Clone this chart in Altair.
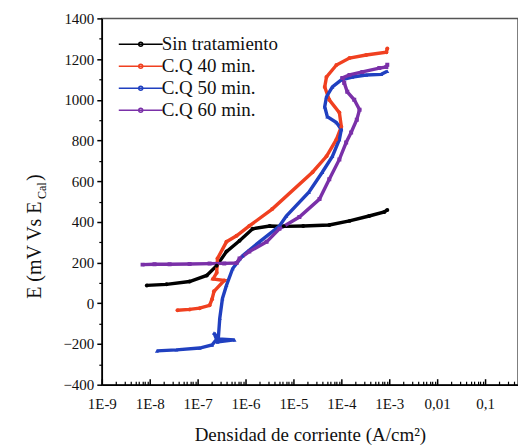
import altair as alt
import pandas as pd

series_names = ["Sin tratamiento", "C.Q 40 min.", "C.Q 50 min.", "C.Q 60 min."]
series_colors = ["#000000", "#f04020", "#2040c0", "#7a30a8"]
series_shapes = ["circle", "circle", "triangle-up", "square"]

# current density (A/cm2) and potential (mV vs E_Cal)
sin_i = [8.7e-9, 2.24e-8, 6.8e-8, 1.55e-7, 2.5e-7, 4.0e-7, 7.5e-7, 1.41e-6, 3.2e-6,
         6.3e-6, 1.6e-5, 5.6e-5, 1.48e-4, 3.8e-4, 7.9e-4, 9.1e-4]
sin_e = [88, 93, 107, 137, 185, 254, 307, 366, 380, 378, 380, 385, 405, 429, 449, 459]

cq40_i = [3.8e-8, 6.8e-8, 1.1e-7, 1.78e-7, 2.0e-7, 2.2e-7, 3.6e-7, 2.1e-7, 2.5e-7, 2.6e-7,
          4.0e-7, 6.5e-7, 1.2e-6, 3.6e-6, 2.5e-5, 4.9e-5, 7.9e-5, 1.0e-4, 9.1e-5, 5.6e-5,
          4.5e-5, 4.9e-5, 7.9e-5, 1.48e-4, 3.3e-4, 8.7e-4, 9.1e-4]
cq40_e = [-34, -30, -24, -10, 20, 59, 112, 120, 150, 220,
          302, 332, 380, 463, 644, 722, 805, 868, 937, 1000,
          1063, 1112, 1171, 1205, 1220, 1234, 1252]

cq50_i = [1.41e-8, 3.6e-8, 1.1e-7, 2.0e-7, 2.6e-7, 2.2e-7, 2.6e-7, 5.9e-7, 2.7e-7, 2.9e-7,
          3.3e-7, 4.0e-7, 5.4e-7, 8.7e-7, 1.95e-6, 5.1e-6, 7.1e-6, 2.1e-5, 4.0e-5, 6.5e-5,
          9.1e-5, 1.0e-4, 7.9e-5, 5.1e-5, 4.5e-5, 4.9e-5, 6.5e-5, 1.0e-4, 1.7e-4, 3.3e-4,
          6.8e-4, 9.1e-4]
cq50_e = [-234, -229, -220, -205, -171, -146, -190, -180, -175, -73,
          24, 88, 171, 234, 302, 380, 429, 546, 644, 722,
          805, 854, 888, 917, 966, 1015, 1063, 1098, 1112, 1122,
          1125, 1140]

cq60_i = [7.1e-9, 1.26e-8, 2.6e-8, 6.8e-8, 1.78e-7, 3.6e-7, 6.5e-7, 7.5e-7, 1.2e-6, 2.75e-6,
          5.1e-6, 1.33e-5, 3.5e-5, 5.6e-5, 9.1e-5, 1.26e-4, 1.6e-4, 2.1e-4, 2.4e-4, 1.86e-4,
          1.33e-4, 1.15e-4, 1.05e-4, 1.48e-4, 2.75e-4, 6.2e-4, 8.7e-4, 9.1e-4]
cq60_e = [190, 192, 192, 193, 195, 196, 198, 220, 254, 302,
          366, 424, 512, 610, 707, 790, 839, 902, 951, 1000,
          1039, 1083, 1107, 1122, 1137, 1156, 1161, 1172]

y_major = [-400, -200, 0, 200, 400, 600, 800, 1000, 1200, 1400]
y_minor = [-300, -100, 100, 300, 500, 700, 900, 1100, 1300]
x_major = [1e-9, 1e-8, 1e-7, 1e-6, 1e-5, 1e-4, 1e-3, 1e-2, 1e-1]
x_labels = ["1E-9", "1E-8", "1E-7", "1E-6", "1E-5", "1E-4", "1E-3", "0,01", "0,1"]
x_minor = [m * d for d in x_major for m in range(2, 10)]

rows = []
for name, ii, ee in zip(series_names, [sin_i, cq40_i, cq50_i, cq60_i],
                        [sin_e, cq40_e, cq50_e, cq60_e]):
    for k, (a, b) in enumerate(zip(ii, ee)):
        rows.append({"serie": name, "marker": name, "i": a, "e": b, "k": k})
df = pd.DataFrame(rows)

W, H = 417, 367
FONT = "Liberation Serif"
xscale = alt.Scale(type="log", domain=[1e-9, 10 ** (-9 + W / 48)], nice=False)
yscale = alt.Scale(domain=[-400, 1400], nice=False, zero=False)

label_map = " : ".join(f"datum.value < {v*1.5:g} ? '{l}'" for v, l in zip(x_major, x_labels)) + " : ''"

legend = alt.Legend(
    title=None, orient="none", legendX=27, legendY=14,
    symbolType="M-2,0H2M0.18,0A0.18,0.18,0,1,1,-0.18,0A0.18,0.18,0,1,1,0.18,0Z",
    symbolSize=484, symbolStrokeWidth=1.5, labelFont=FONT, labelFontSize=19,
    labelColor="#111", labelOffset=9, rowPadding=0, padding=0,
)
color = alt.Color("serie:N", scale=alt.Scale(domain=series_names, range=series_colors),
                  legend=legend)

lines = alt.Chart(df).mark_line(strokeWidth=3.4, clip=True).encode(
    x=alt.X("i:Q", scale=xscale, axis=alt.Axis(
        orient="bottom", values=x_major, labelExpr=label_map, ticks=False,
        domainColor="#000", domainWidth=1.5, labelFont=FONT, labelFontSize=15,
        labelColor="#111", labelPadding=12, labelFlush=False,
        title="Densidad de corriente (A/cm²)", titleFont=FONT, titleFontSize=19,
        titleFontWeight="normal", titleColor="#111", titlePadding=14, grid=False)),
    y=alt.Y("e:Q", scale=yscale, axis=alt.Axis(
        orient="left", values=y_major, format="d", tickSize=5, tickColor="#000", tickWidth=1.5,
        domainColor="#000", domainWidth=1.5, labelFont=FONT, labelFontSize=15,
        labelColor="#111", labelPadding=3, title=None, grid=False)),
    color=color,
    order="k:Q",
)

points = alt.Chart(df).mark_point(filled=True, size=16, opacity=1, clip=True).encode(
    x=alt.X("i:Q", scale=xscale, axis=None),
    y=alt.Y("e:Q", scale=yscale, axis=None),
    color=alt.Color("serie:N", scale=alt.Scale(domain=series_names, range=series_colors),
                    legend=None),
    shape=alt.Shape("marker:N", scale=alt.Scale(domain=series_names, range=series_shapes),
                    legend=None),
)

dummy = pd.DataFrame({"i": [1e-6], "e": [0]})
ax_major = alt.Chart(dummy).mark_point(opacity=0).encode(
    x=alt.X("i:Q", scale=xscale, axis=alt.Axis(
        orient="top", offset=-H, values=x_major, tickSize=6, tickColor="#000", tickWidth=1.5,
        labels=False, domain=False, title=None, grid=False)),
    y=alt.Y("e:Q", scale=yscale, axis=alt.Axis(
        orient="left", values=y_minor, tickSize=3, tickColor="#000", tickWidth=1.2,
        labels=False, domain=False, title=None, grid=False)),
)
ax_minor = alt.Chart(dummy).mark_point(opacity=0).encode(
    x=alt.X("i:Q", scale=xscale, axis=alt.Axis(
        orient="top", offset=-H, values=x_minor, tickSize=3.5, tickColor="#000", tickWidth=1.2,
        labels=False, domain=False, title=None, grid=False)),
    y=alt.Y("e:Q", scale=yscale, axis=None),
)

one = pd.DataFrame({"a": [0]})
ytitle_main = alt.Chart(one).mark_text(
    angle=270, align="left", baseline="middle", font=FONT, fontSize=20, color="#111"
).encode(x=alt.value(-67), y=alt.value(281), text=alt.value("E (mV  Vs E"))
ytitle_sub = alt.Chart(one).mark_text(
    angle=270, align="left", baseline="middle", font=FONT, fontSize=12, color="#111"
).encode(x=alt.value(-60), y=alt.value(181), text=alt.value("Cal"))
ytitle_end = alt.Chart(one).mark_text(
    angle=270, align="left", baseline="middle", font=FONT, fontSize=20, color="#111"
).encode(x=alt.value(-67), y=alt.value(163), text=alt.value(")"))

chart = alt.layer(
    lines, points, ax_major, ax_minor, ytitle_main, ytitle_sub, ytitle_end
).resolve_axis(x="independent", y="independent").resolve_legend(
    color="independent", shape="independent"
).properties(
    width=W, height=H,
    autosize=alt.AutoSizeParams(type="none"),
    padding={"left": 102, "top": 18, "right": 0, "bottom": 63},
    background="white",
).configure_view(stroke="#555", strokeWidth=1.5)

chart.save("out.html", embed_options={"renderer": "svg", "actions": False})
